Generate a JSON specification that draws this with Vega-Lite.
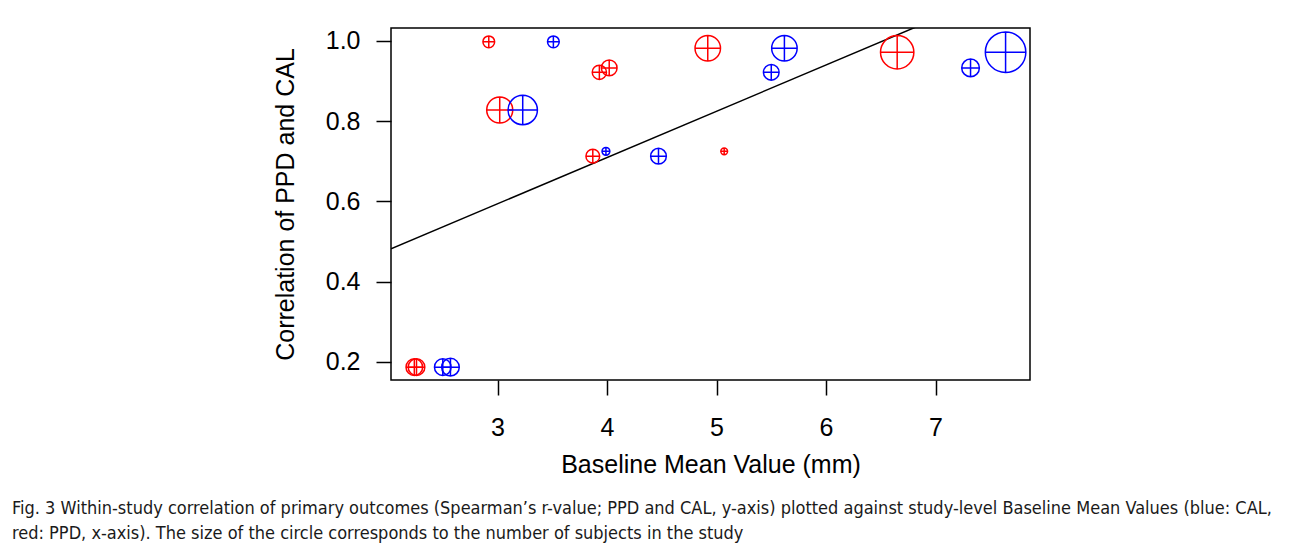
{
  "$schema": "https://vega.github.io/schema/vega-lite/v6.json",
  "width": 639,
  "height": 352,
  "autosize": {"type": "none"},
  "padding": {"left": 391, "top": 28, "right": 262, "bottom": 168},
  "background": "white",
  "config": {
    "view": {"stroke": "black", "strokeWidth": 1.5},
    "font": "Liberation Sans",
    "axis": {
      "domain": false,
      "grid": false,
      "tickColor": "black",
      "tickWidth": 1.5,
      "tickSize": 15,
      "labelFont": "Liberation Sans",
      "labelFontSize": 25,
      "labelColor": "black",
      "titleFont": "Liberation Sans",
      "titleFontSize": 25,
      "titleFontWeight": "normal",
      "titleColor": "black"
    }
  },
  "title": {
    "text": [
      "Fig. 3 Within-study correlation of primary outcomes (Spearman’s r-value; PPD and CAL, y-axis) plotted against study-level Baseline Mean Values (blue: CAL,",
      "red: PPD, x-axis). The size of the circle corresponds to the number of subjects in the study"
    ],
    "orient": "bottom",
    "anchor": "start",
    "frame": "group",
    "dx": -379,
    "offset": 23,
    "font": "Liberation Sans Narrow, DejaVu Sans Condensed, Liberation Sans",
    "fontSize": 18,
    "fontWeight": "normal",
    "color": "#1a1a1a",
    "lineHeight": 25
  },
  "datasets": {
    "points": [
      {"outcome": "PPD", "baseline": 2.92, "correlation": 0.998, "subjects": 36},
      {"outcome": "PPD", "baseline": 3.93, "correlation": 0.922, "subjects": 53},
      {"outcome": "PPD", "baseline": 4.02, "correlation": 0.933, "subjects": 64},
      {"outcome": "PPD", "baseline": 3.02, "correlation": 0.828, "subjects": 177},
      {"outcome": "PPD", "baseline": 3.87, "correlation": 0.713, "subjects": 49},
      {"outcome": "PPD", "baseline": 4.92, "correlation": 0.982, "subjects": 169},
      {"outcome": "PPD", "baseline": 5.07, "correlation": 0.725, "subjects": 12},
      {"outcome": "PPD", "baseline": 6.65, "correlation": 0.972, "subjects": 290},
      {"outcome": "PPD", "baseline": 2.24, "correlation": 0.187, "subjects": 72},
      {"outcome": "PPD", "baseline": 2.26, "correlation": 0.187, "subjects": 72},
      {"outcome": "CAL", "baseline": 3.51, "correlation": 0.998, "subjects": 36},
      {"outcome": "CAL", "baseline": 5.5, "correlation": 0.922, "subjects": 64},
      {"outcome": "CAL", "baseline": 7.32, "correlation": 0.933, "subjects": 81},
      {"outcome": "CAL", "baseline": 3.23, "correlation": 0.828, "subjects": 225},
      {"outcome": "CAL", "baseline": 4.47, "correlation": 0.713, "subjects": 64},
      {"outcome": "CAL", "baseline": 3.99, "correlation": 0.725, "subjects": 16},
      {"outcome": "CAL", "baseline": 5.62, "correlation": 0.982, "subjects": 169},
      {"outcome": "CAL", "baseline": 7.64, "correlation": 0.972, "subjects": 428},
      {"outcome": "CAL", "baseline": 2.5, "correlation": 0.187, "subjects": 72},
      {"outcome": "CAL", "baseline": 2.57, "correlation": 0.187, "subjects": 81}
    ],
    "fit": [
      {"baseline": 2.027, "correlation": 0.482},
      {"baseline": 7.863, "correlation": 1.155}
    ]
  },
  "layer": [
    {
      "data": {"name": "fit"},
      "mark": {"type": "line", "color": "black", "strokeWidth": 1.5, "clip": true},
      "encoding": {
        "x": {"field": "baseline", "type": "quantitative"},
        "y": {"field": "correlation", "type": "quantitative"}
      }
    },
    {
      "data": {"name": "points"},
      "mark": {
        "type": "point",
        "shape": "M-1,0A1,1,0,1,0,1,0A1,1,0,1,0,-1,0ZM-1,0L1,0M0,-1L0,1",
        "filled": false,
        "strokeWidth": 1.5,
        "opacity": 1
      },
      "encoding": {
        "x": {
          "field": "baseline",
          "type": "quantitative",
          "title": "Baseline Mean Value (mm)",
          "scale": {"domain": [2.027, 7.863], "nice": false, "zero": false},
          "axis": {"values": [3, 4, 5, 6, 7], "format": "d", "labelPadding": 20, "titlePadding": 12}
        },
        "y": {
          "field": "correlation",
          "type": "quantitative",
          "title": "Correlation of PPD and CAL",
          "scale": {"domain": [0.155, 1.0324], "nice": false, "zero": false},
          "axis": {"values": [0.2, 0.4, 0.6, 0.8, 1.0], "format": ".1f", "labelPadding": 16, "titlePadding": 27}
        },
        "color": {
          "field": "outcome",
          "type": "nominal",
          "scale": {"domain": ["CAL", "PPD"], "range": ["#0000ff", "#ff0000"]},
          "legend": null
        },
        "size": {
          "field": "subjects",
          "type": "quantitative",
          "scale": {"domain": [0, 430], "range": [0, 1650]},
          "legend": null
        }
      }
    }
  ]
}
